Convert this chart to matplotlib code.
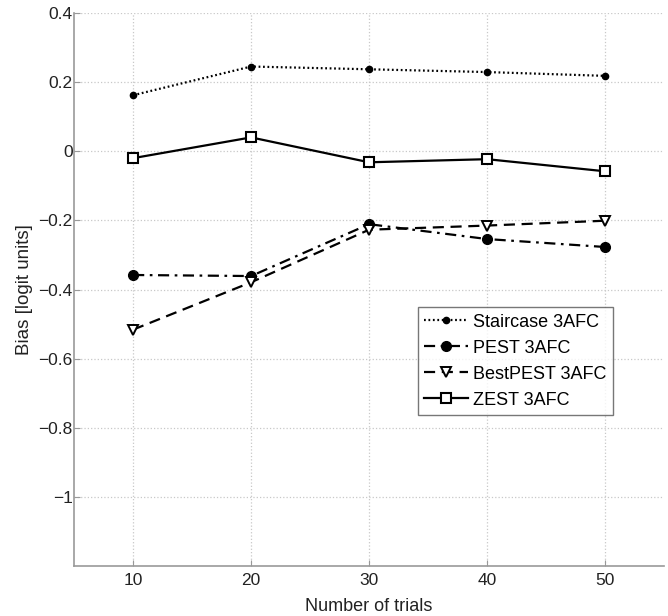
import matplotlib
matplotlib.use("Agg")
import matplotlib.pyplot as plt

plt.rcParams['font.family'] = ['Liberation Sans', 'DejaVu Sans']

trials = [10, 20, 30, 40, 50]
staircase = [0.162, 0.245, 0.237, 0.229, 0.218]
pest = [-0.358, -0.361, -0.211, -0.254, -0.277]
bestpest = [-0.516, -0.379, -0.227, -0.215, -0.201]
zest = [-0.020, 0.040, -0.032, -0.023, -0.058]
labels = ["Staircase 3AFC", "PEST 3AFC", "BestPEST 3AFC", "ZEST 3AFC"]
yticks = [-1.0, -0.8, -0.6, -0.4, -0.2, 0.0, 0.2, 0.4]
yticklabels = ["\u22121", "\u22120.8", "\u22120.6", "\u22120.4", "\u22120.2", "0", "0.2", "0.4"]

fig = plt.figure(figsize=(6.68, 6.16), dpi=100)
ax = fig.add_axes([0.111, 0.081, 0.883, 0.898])

ax.plot(trials, staircase, color='black', linestyle=(0, (0.8, 1.2)), linewidth=1.6,
        marker='o', markersize=4.5, label=labels[0])
ax.plot(trials, pest, color='black', linestyle=(0, (5, 2.5, 1.2, 2.5)), linewidth=1.6,
        marker='o', markersize=7, label=labels[1])
ax.plot(trials, bestpest, color='black', linestyle=(0, (5, 3)), linewidth=1.6,
        marker='v', markersize=6.5, markerfacecolor='white', markeredgewidth=1.4,
        label=labels[2])
ax.plot(trials, zest, color='black', linestyle='-', linewidth=1.6,
        marker='s', markersize=6.5, markerfacecolor='white', markeredgewidth=1.5,
        label=labels[3])

ax.set_xlim(5, 55)
ax.set_ylim(-1.2, 0.4)
ax.set_xticks(trials)
ax.set_yticks(yticks)
ax.set_yticklabels(yticklabels)
ax.grid(True, linestyle=':', color='#c8c8c8', linewidth=0.9)
for s in ['top', 'right']:
    ax.spines[s].set_visible(False)
for s in ['left', 'bottom']:
    ax.spines[s].set_color('#999999')
    ax.spines[s].set_linewidth(1.2)
ax.tick_params(direction='in', length=4, color='#999999', labelsize=12.5,
               labelcolor='#222222')
ax.tick_params(axis='y', pad=1)
ax.tick_params(axis='x', pad=5)
ax.set_xlabel("Number of trials", fontsize=13, color='#222222', labelpad=7)
ax.set_ylabel("Bias [logit units]", fontsize=13.5, color='#222222', labelpad=4)

leg = ax.legend(loc='upper left', bbox_to_anchor=(0.583, 0.468), borderaxespad=0,
                fontsize=13, frameon=True, fancybox=False, handlelength=2.4,
                handletextpad=0.3, borderpad=0.35, labelspacing=0.5)
leg.get_frame().set_edgecolor('#555555')
leg.get_frame().set_linewidth(1.0)

fig.savefig("out.png", dpi=100)
